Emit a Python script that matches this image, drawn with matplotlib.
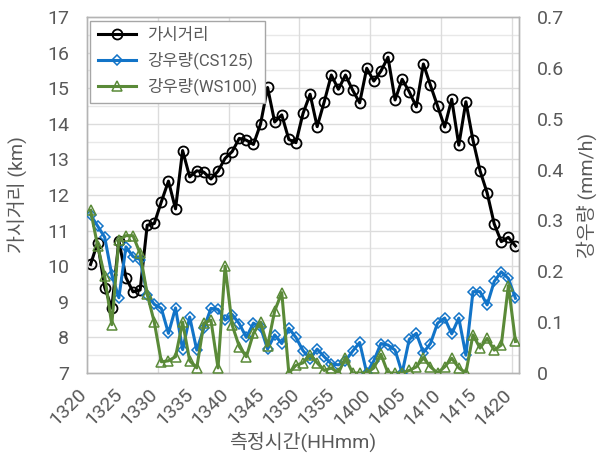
import matplotlib
matplotlib.use("Agg")
import matplotlib.pyplot as plt
from matplotlib.lines import Line2D
import numpy as np

plt.rcParams['font.family'] = ['Roboto', 'Noto Sans CJK KR', 'DejaVu Sans']

# Measurement times (HHmm), one sample per minute
hours = [13] * 40 + [14] * 21
minutes = list(range(20, 60)) + list(range(0, 21))
times = [f"{h}{m:02d}" for h, m in zip(hours, minutes)]

# Visibility (km)
visibility = [10.05, 10.66, 9.40, 8.82, 10.72, 9.68, 9.28, 9.33, 11.15, 11.20,
              11.81, 12.39, 11.61, 13.25, 12.51, 12.68, 12.64, 12.45, 12.67, 13.03,
              13.22, 13.59, 13.54, 13.42, 13.99, 15.02, 14.05, 14.25, 13.56, 13.47,
              14.29, 14.83, 13.92, 14.62, 15.37, 14.97, 15.37, 14.95, 14.59, 15.56,
              15.20, 15.48, 15.87, 14.67, 15.25, 14.90, 14.48, 15.68, 15.08, 14.50,
              13.91, 14.69, 13.40, 14.62, 13.54, 12.68, 12.06, 11.19, 10.69, 10.81,
              10.57]

# Rain rate (mm/h), CS125 sensor
rain_cs125 = [0.311, 0.289, 0.267, 0.193, 0.148, 0.248, 0.229, 0.223, 0.154, 0.135,
              0.127, 0.078, 0.128, 0.046, 0.110, 0.045, 0.088, 0.127, 0.125, 0.104,
              0.115, 0.097, 0.070, 0.098, 0.090, 0.047, 0.075, 0.058, 0.088, 0.070,
              0.044, 0.028, 0.047, 0.032, 0.018, 0.016, 0.024, 0.043, 0.060, 0.000,
              0.024, 0.058, 0.055, 0.045, 0.000, 0.066, 0.078, 0.040, 0.058, 0.098,
              0.108, 0.077, 0.108, 0.035, 0.160, 0.160, 0.134, 0.180, 0.199, 0.186,
              0.147]

# Rain rate (mm/h), WS100 sensor
rain_ws100 = [0.320, 0.250, 0.190, 0.095, 0.262, 0.270, 0.270, 0.235, 0.155, 0.100,
              0.022, 0.024, 0.032, 0.100, 0.024, 0.010, 0.098, 0.104, 0.010, 0.210,
              0.094, 0.052, 0.032, 0.078, 0.100, 0.053, 0.122, 0.158, 0.000, 0.015,
              0.020, 0.035, 0.020, 0.005, 0.010, 0.000, 0.030, 0.000, 0.000, 0.000,
              0.010, 0.037, 0.000, 0.000, 0.000, 0.005, 0.012, 0.030, 0.012, 0.000,
              0.012, 0.029, 0.010, 0.000, 0.075, 0.049, 0.068, 0.045, 0.055, 0.172,
              0.062]

vis_ticks = list(range(7, 18))
rain_ticks = [0, 0.1, 0.2, 0.3, 0.4, 0.5, 0.6, 0.7]
rain_tick_labels = ['0', '0.1', '0.2', '0.3', '0.4', '0.5', '0.6', '0.7']

TXT = '#595959'
BLUE = '#1274c8'
GREEN = '#5a8a38'

fig = plt.figure(figsize=(6.08, 4.63), dpi=100)
ax1 = fig.add_axes([87 / 608, 1 - 373 / 463, 432 / 608, 356 / 463])
ax2 = ax1.twinx()

x = np.arange(len(times))

# Grid: every 0.5 km horizontally, every 10 minutes vertically (category boundaries)
for v in np.arange(7.5, 17, 0.5):
    ax1.axhline(v, color='#dcdcdc' if v % 1 == 0 else '#e8e8e8', lw=1.0, zorder=0)
for b in range(10, len(times), 10):
    ax1.axvline(b - 0.5, color='#dcdcdc', lw=1.0, zorder=0)

ax1.plot(x, visibility, color='black', lw=2.2, marker='o', ms=7.2,
         mfc='none', mec='black', mew=1.3, zorder=3)
ax2.plot(x, rain_cs125, color=BLUE, lw=2.2, marker='D', ms=5,
         mfc='none', mec=BLUE, mew=1.1, zorder=3)
ax2.plot(x, rain_ws100, color=GREEN, lw=2.2, marker='^', ms=6.5,
         mfc='none', mec=GREEN, mew=1.1, zorder=4)

ax1.set_xlim(-0.5, len(times) - 0.5)
ax1.set_ylim(7, 17)
ax2.set_ylim(0, 0.7)

ax1.set_yticks(vis_ticks)
ax1.set_yticklabels([str(t) for t in vis_ticks])
ax2.set_yticks(rain_ticks)
ax2.set_yticklabels(rain_tick_labels)

ax1.set_xticks(x[::5])
ax1.set_xticklabels(times[::5], rotation=45, ha='right', va='top')

ax1.tick_params(axis='y', length=0, pad=13, labelsize=14, labelcolor=TXT)
ax2.tick_params(axis='y', length=0, pad=13, labelsize=14, labelcolor=TXT)
ax1.tick_params(axis='x', length=0, pad=9, labelsize=14, labelcolor=TXT)

for ax in (ax1, ax2):
    for s in ax.spines.values():
        s.set_color('#b4b4b4')
        s.set_linewidth(1.0)

ax1.set_ylabel('가시거리 (km)', fontsize=14, color=TXT)
ax2.set_ylabel('강우량 (mm/h)', fontsize=14, color=TXT, rotation=90)
ax1.set_xlabel('측정시간(HHmm)', fontsize=14, color=TXT)
ax1.yaxis.set_label_coords(-0.139, 0.5)
ax2.yaxis.set_label_coords(1.132, 0.5)
ax1.xaxis.set_label_coords(0.5, -0.165)

handles = [
    Line2D([], [], color='black', lw=2.2, marker='o', ms=7.2, mfc='none', mew=1.3),
    Line2D([], [], color=BLUE, lw=2.2, marker='D', ms=5, mfc='none', mew=1.1),
    Line2D([], [], color=GREEN, lw=2.2, marker='^', ms=6.5, mfc='none', mew=1.1),
]
leg = ax2.legend(handles, ['가시거리', '강우량(CS125)', '강우량(WS100)'],
                 loc='upper left', bbox_to_anchor=(0.007, 0.99), borderaxespad=0,
                 fontsize=12, handlelength=2.3, numpoints=1, fancybox=False,
                 framealpha=1, edgecolor='#a6a6a6', labelspacing=0.5,
                 borderpad=0.45, handletextpad=0.7)
for t in leg.get_texts():
    t.set_color(TXT)
leg.get_frame().set_linewidth(1.0)
leg.set_zorder(10)

fig.savefig('out.png', dpi=100, facecolor='white')
